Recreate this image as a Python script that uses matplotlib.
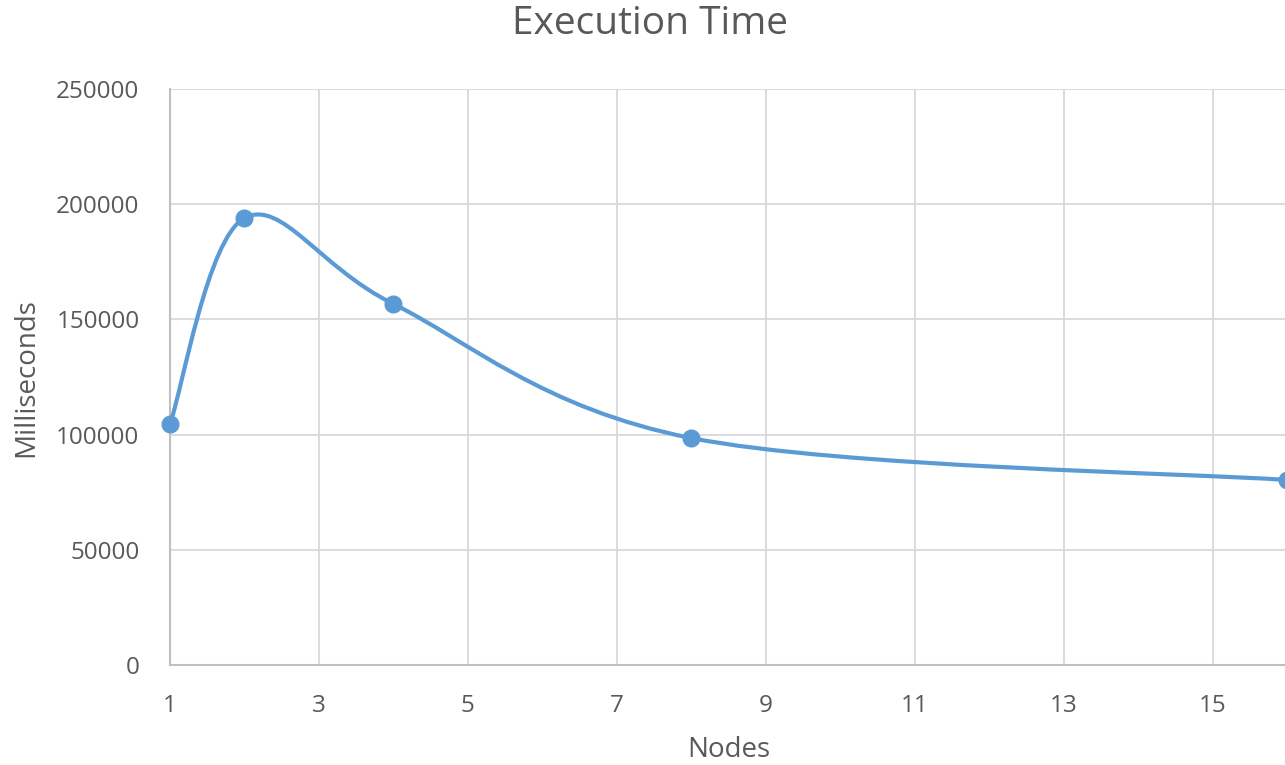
import numpy as np
import matplotlib.pyplot as plt
from matplotlib.path import Path
from matplotlib.patches import PathPatch

plt.rcParams['font.family'] = ['Open Sans', 'DejaVu Sans']

nodes = [1, 2, 4, 8, 16]
millis = [104600, 194000, 156700, 98500, 80300]

line_color = '#5b9bd5'
text_color = '#595959'
grid_color = '#d9d9d9'


def smooth_path(xs, ys, tension=1/6):
    # cardinal spline as cubic bezier segments (like a spreadsheet "smoothed line")
    pts = np.column_stack([xs, ys]).astype(float)
    n = len(pts)
    verts = [pts[0]]
    codes = [Path.MOVETO]
    for i in range(n - 1):
        p0 = pts[i - 1] if i > 0 else pts[i]
        p1 = pts[i]
        p2 = pts[i + 1]
        p3 = pts[i + 2] if i + 2 < n else pts[i + 1]
        c1 = p1 + (p2 - p0) * tension
        c2 = p2 - (p3 - p1) * tension
        verts += [c1, c2, p2]
        codes += [Path.CURVE4] * 3
    return Path(verts, codes)


fig = plt.figure(figsize=(12.85, 7.65), dpi=100)
ax = fig.add_axes([170 / 1285, 1 - 665 / 765, 1117 / 1285, 576 / 765])

ax.add_patch(PathPatch(smooth_path(nodes, millis), fill=False,
                       edgecolor=line_color, lw=3, capstyle='round',
                       zorder=3))
ax.plot(nodes, millis, 'o', color=line_color, markersize=12,
        zorder=4, clip_on=False)

ax.set_xlim(1, 16)
ax.set_ylim(0, 250000)
ax.set_xticks(np.arange(1, 17, 2))
ax.set_yticks(np.arange(0, 250001, 50000))
ax.grid(True, color=grid_color, lw=1.3)
ax.set_axisbelow(True)

for side in ['top', 'right']:
    ax.spines[side].set_visible(False)
for side in ['left', 'bottom']:
    ax.spines[side].set_color('#bfbfbf')
    ax.spines[side].set_linewidth(1.5)

ax.tick_params(length=0, labelsize=17.5, colors=text_color)
ax.tick_params(axis='x', pad=21)
ax.tick_params(axis='y', pad=22)

# axis titles and chart title placed in figure pixels
fig.text(729 / 1285, 1 - 750 / 765, 'Nodes', fontsize=20,
         color=text_color, ha='center', va='center')
fig.text(26 / 1285, 1 - 378 / 765, 'Milliseconds', fontsize=20,
         color=text_color, ha='center', va='center', rotation=90)
fig.text(650 / 1285, 1 - 24 / 765, 'Execution Time', fontsize=28,
         color=text_color, ha='center', va='center')

fig.savefig('out.png', dpi=100)
